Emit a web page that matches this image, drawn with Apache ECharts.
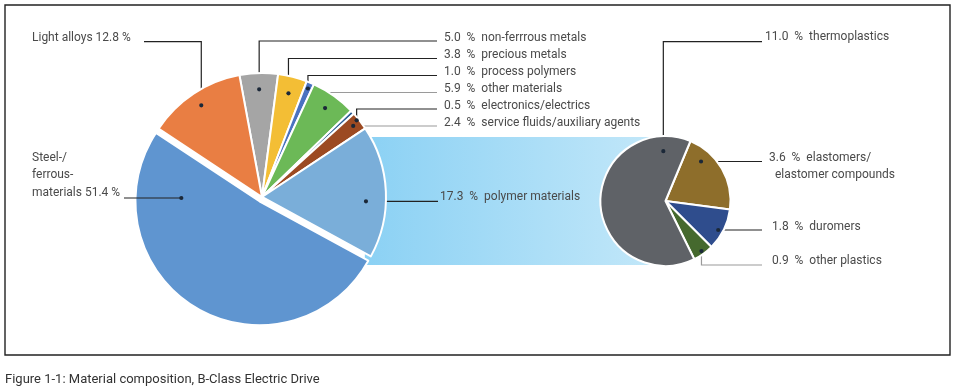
<!DOCTYPE html>
<html><head><meta charset="utf-8">
<script src="https://cdn.jsdelivr.net/npm/echarts@6/dist/echarts.min.js"></script>
<style>html,body{margin:0;padding:0;background:#fff}#c{width:956px;height:392px}</style>
</head><body><div id="c"></div>
<script>
// ---------- DATA ----------
const mainNames  = ['non-ferrrous metals','precious metals','process polymers','other materials','electronics/electrics','service fluids/auxiliary agents','polymer materials','Steel-/\nferrous-\nmaterials','Light alloys'];
const mainValues = [5.0, 3.8, 1.0, 5.9, 0.5, 2.4, 17.3, 51.4, 12.8];
const subNames   = ['elastomers/\n  elastomer compounds','duromers','other plastics','thermoplastics'];
const subValues  = [3.6, 1.8, 0.9, 11.0];
const caption    = 'Figure 1-1: Material composition, B-Class Electric Drive';
const explodedIndex = 7; // steel slice is pulled out

// ---------- STYLE / LAYOUT ----------
const mainColors = ['#a5a5a5','#f3be35','#4a72c0','#6cb957','#2e5f95','#9c4a22','#7aaed9','#5f95d0','#e97e43'];
const subColors  = ['#8e6e2b','#2f4d8d','#45692e','#5f6267'];
const MAIN_C = [262, 197], MAIN_R = 123, MAIN_START = 100.5, EXPLODE = 5;
const SUB_C  = [665.5, 201], SUB_R = 64, SUB_START = 67.4;
// label anchor: [textX, textY, lineStartX, lineY (null = straight to dot), grayLine, leftStyle]
const mainLab = [
  [444, 37.5, 437, 41, 0, 0],
  [444, 54.5, 437, 58.5, 0, 0],
  [444, 71.5, 437, 75.5, 0, 0],
  [444, 89, 437, 92.5, 1, 0],
  [444, 106, 437, 109, 0, 0],
  [444, 123, 437, 126, 1, 0],
  [440, 196.7, 438, null, 0, 0],
  [32, 175.3, 124, null, 0, 1],
  [32, 37.7, 144, 41.7, 0, 1]
];
// dot: [angle override (deg clockwise from top) or null = slice middle, radius fraction]
const mainDot = [[null,0.876],[null,0.87],[null,0.958],[null,0.886],[51,0.99],[null,0.94],[92.4,0.846],[269.3,0.656],[null,0.894]];
const subLab = [
  [769, 166.2, 762, null, 0],
  [772, 226.7, 762, null, 0],
  [772, 260.7, 762, 265, 1],
  [765, 37.3, 762, 41.7, 0]
];
const subDot = [[42,0.83],[118.8,0.94],[null,0.964],[357.5,0.78]];

function polar(c, r, a) { const t = a * Math.PI / 180; return [c[0] + r * Math.sin(t), c[1] - r * Math.cos(t)]; }
function midAngles(values, start) {
  const sum = values.reduce((a, b) => a + b, 0);
  let acc = 90 - start;
  return values.map(v => { const span = v / sum * 360, mid = acc + span / 2; acc += span; return mid; });
}
function dotsFor(values, start, c, r, spec) {
  const mids = midAngles(values, start);
  return values.map((v, i) => polar(c, r * spec[i][1], spec[i][0] == null ? mids[i] : spec[i][0]));
}
const mainDots = dotsFor(mainValues, MAIN_START, MAIN_C, MAIN_R, mainDot);
const subDots  = dotsFor(subValues, SUB_START, SUB_C, SUB_R, subDot);
const EXP_C = polar(MAIN_C, EXPLODE, midAngles(mainValues, MAIN_START)[explodedIndex]);

function fmtMain(i) {
  const v = mainValues[i].toFixed(1);
  return mainLab[i][5] ? mainNames[i] + ' ' + v + ' %' : v + '  %  ' + mainNames[i];
}
function fmtSub(i) { return subValues[i].toFixed(1) + '  %  ' + subNames[i]; }
function linePts(L, d) {
  if (L[3] == null) return [[L[2], d[1]], [d[0], d[1]]];
  return [[L[2], L[3]], [d[0], L[3]], [d[0], d[1]]];
}

const DARK = '#222', GRAY = '#9a9a9a', NONE = 'rgba(0,0,0,0)';
const labelBase = { show: true, position: 'outside', color: '#4a4a4a', fontSize: 12, fontFamily: 'Roboto', lineHeight: 17.2 };
const mainLayout = p => {
  const L = mainLab[p.dataIndex];
  return { x: L[0], y: L[1], align: 'left', verticalAlign: 'middle', labelLinePoints: linePts(L, mainDots[p.dataIndex]) };
};

// connector band between main pie and sub pie
const bTop = SUB_C[1] - SUB_R, bBot = SUB_C[1] + SUB_R;
const xTop = MAIN_C[0] + Math.sqrt(MAIN_R * MAIN_R - (bTop - MAIN_C[1]) ** 2);
const xBot = MAIN_C[0] + Math.sqrt(MAIN_R * MAIN_R - (bBot - MAIN_C[1]) ** 2);

const graphics = [
  { type: 'rect', z: 0, shape: { x: 5, y: 5, width: 945, height: 350 }, style: { fill: 'none', stroke: '#222', lineWidth: 1.4 } },
  { type: 'polygon', z: 0, shape: { points: [[xTop, bTop], [SUB_C[0], bTop], [SUB_C[0], bBot], [xBot, bBot]] },
    style: { fill: { type: 'linear', x: 0, y: 0, x2: 1, y2: 0, colorStops: [{ offset: 0, color: '#8bd1f4' }, { offset: 1, color: '#c4e8f9' }] } } },
  { type: 'text', z: 10, x: 5, y: 380, style: { text: caption, fill: '#333', font: '13px Roboto', textVerticalAlign: 'middle' } },
  // leader line of the exploded slice
  { type: 'polyline', z: 90, shape: { points: linePts(mainLab[explodedIndex], mainDots[explodedIndex]) }, style: { stroke: DARK, lineWidth: 1.2, fill: null } }
];
mainDots.concat(subDots).forEach(d => graphics.push({ type: 'circle', z: 100, shape: { cx: d[0], cy: d[1], r: 2.1 }, style: { fill: '#1b2838' } }));

const chart = echarts.init(document.getElementById('c'), null, { renderer: 'canvas' });
chart.setOption({
  animation: false,
  graphic: graphics,
  series: [
    {
      type: 'pie', z: 5, center: MAIN_C, radius: MAIN_R + 1, startAngle: MAIN_START, clockwise: true, avoidLabelOverlap: false,
      itemStyle: { borderColor: '#fff', borderWidth: 2 },
      emphasis: { disabled: true },
      label: Object.assign({}, labelBase, { formatter: p => fmtMain(p.dataIndex) }),
      labelLine: { show: true, lineStyle: { color: DARK, width: 1.2 } },
      labelLayout: mainLayout,
      data: mainValues.map((v, i) => ({ value: v, name: mainNames[i],
        itemStyle: i === explodedIndex ? { color: NONE, borderWidth: 0 } : { color: mainColors[i] },
        label: { show: i !== explodedIndex }, labelLine: { show: i !== explodedIndex, lineStyle: { color: mainLab[i][4] ? GRAY : DARK } } }))
    },
    {
      // exploded steel slice, same data, shifted outwards along the slice's middle
      type: 'pie', z: 6, center: EXP_C, radius: MAIN_R + 1, startAngle: MAIN_START, clockwise: true, avoidLabelOverlap: false,
      emphasis: { disabled: true }, silent: true,
      label: Object.assign({}, labelBase, { formatter: p => fmtMain(p.dataIndex) }),
      labelLine: { show: false },
      labelLayout: mainLayout,
      data: mainValues.map((v, i) => ({ value: v, name: mainNames[i],
        label: { show: i === explodedIndex },
        itemStyle: i === explodedIndex ? { color: mainColors[i], borderColor: '#fff', borderWidth: 2 } : { color: NONE, borderWidth: 0 } }))
    },
    {
      type: 'pie', z: 5, center: SUB_C, radius: SUB_R + 1, startAngle: SUB_START, clockwise: true, avoidLabelOverlap: false,
      itemStyle: { borderColor: '#fff', borderWidth: 2 },
      emphasis: { disabled: true },
      label: Object.assign({}, labelBase, { formatter: p => fmtSub(p.dataIndex) }),
      labelLine: { show: true, lineStyle: { color: DARK, width: 1.2 } },
      labelLayout: p => {
        const L = subLab[p.dataIndex];
        return { x: L[0], y: L[1], align: 'left', verticalAlign: 'middle', labelLinePoints: linePts(L, subDots[p.dataIndex]) };
      },
      data: subValues.map((v, i) => ({ value: v, name: subNames[i], itemStyle: { color: subColors[i] },
        labelLine: { lineStyle: { color: subLab[i][4] ? GRAY : DARK } } }))
    }
  ]
});
</script>
</body></html>
